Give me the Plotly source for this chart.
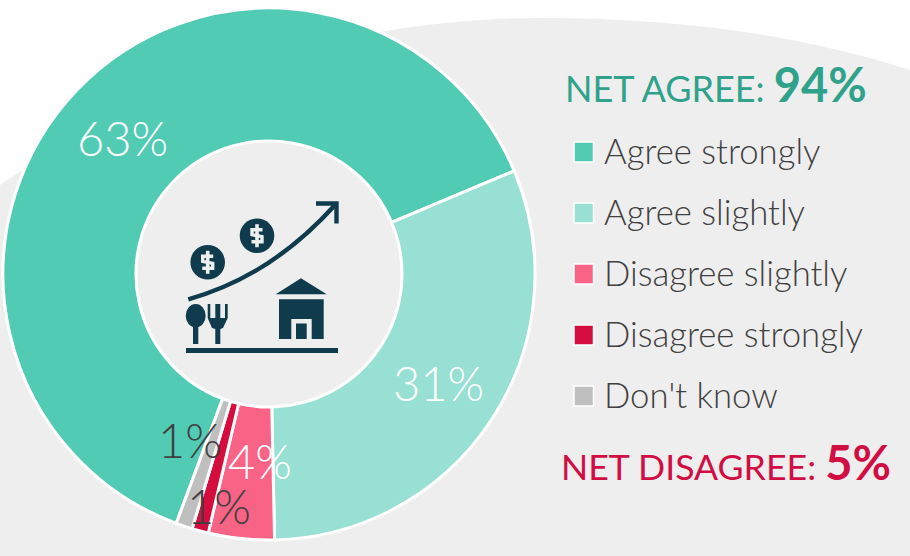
import plotly.graph_objects as go

W, H = 910, 556
categories = ["Agree strongly", "Agree slightly", "Disagree slightly", "Disagree strongly", "Don't know"]
values = [63, 31, 4, 1, 1]
colors = ["#52CBB5", "#97E0D3", "#F96385", "#D40D3E", "#BFBFBF"]
net_agree = values[0] + values[1]
net_disagree = values[2] + values[3]

FONT = "Lato"
TEXT = "#404040"
ICON = "#0F3B4C"
BG = "#EEEEEE"


def X(v):
    return v / W


def Y(v):
    return 1 - v / H


def path(*items):
    out = []
    for it in items:
        if isinstance(it, str):
            out.append(it)
        else:
            out.append(f"{X(it[0]):.5f},{Y(it[1]):.5f}")
    return " ".join(out)


def poly(*pts):
    return "M " + " L ".join(path(p) for p in pts) + " Z"


shapes = []


def add_path(d, fill=None, line=None, lw=0, layer="above", cap=None):
    s = dict(type="path", xref="paper", yref="paper", path=d, layer=layer,
             line=dict(width=lw, color=line or "rgba(0,0,0,0)"),
             fillcolor=fill or "rgba(0,0,0,0)")
    shapes.append(s)


def add_rect(x0, y0, x1, y1, fill, line=None, lw=0, layer="above"):
    shapes.append(dict(type="rect", xref="paper", yref="paper", x0=X(x0), x1=X(x1), y0=Y(y0), y1=Y(y1),
                       fillcolor=fill, layer=layer, line=dict(width=lw, color=line or "rgba(0,0,0,0)")))


def add_oval(cx, cy, rx, ry, fill):
    shapes.append(dict(type="circle", xref="paper", yref="paper", x0=X(cx - rx), x1=X(cx + rx),
                       y0=Y(cy + ry), y1=Y(cy - ry), fillcolor=fill, layer="above", line=dict(width=0)))


# Background blob
add_path(path("M", (0, 185), "C", (150, 80), (350, 18), (540, 18), "C", (680, 18), (800, 35), (910, 70),
              "L", (910, 556), "L", (0, 556), "Z"), fill=BG, layer="below")

# Icon: ground
add_rect(186, 348, 338, 353, ICON)
# spoon
add_oval(195.7, 315.7, 10, 11.7, ICON)
add_rect(193, 320, 198.3, 344, ICON)
# fork
add_path(poly((207.7, 304), (210.3, 304), (210.3, 318), (215.3, 318), (215.3, 304), (220.3, 304), (220.3, 318),
              (225, 318), (225, 304), (227.7, 304), (227.7, 318), (223, 328), (220.3, 329), (220.3, 344),
              (215.3, 344), (215.3, 329), (212, 328), (207.7, 318)), fill=ICON)
# house
add_path(poly((275.7, 294.3), (301, 278.3), (326.7, 294.3)), fill=ICON)
add_rect(279, 299.3, 323.7, 339, ICON)
add_rect(291.3, 319, 311.7, 339, BG)
add_rect(296, 323.5, 306.7, 339, ICON)
# coins
for cx, cy in [(207.7, 262.3), (257, 235.7)]:
    add_oval(cx, cy, 17.3, 17.3, ICON)
    add_path(path("M", (cx + 5.5, cy - 6), "L", (cx - 5, cy - 6), "L", (cx - 5, cy - 1), "L", (cx + 5, cy + 1),
                  "L", (cx + 5, cy + 6), "L", (cx - 5.5, cy + 6)), line=BG, lw=3.4)
    add_rect(cx - 1.8, cy - 11.5, cx + 1.8, cy + 11.5, BG)
# arrow
add_path(path("M", (188.3, 299.3), "C", (240, 285), (290, 255), (335, 205)), line=ICON, lw=4.4)
add_path(path("M", (316, 203.5), "L", (336.5, 203.5), "L", (336.5, 223.5)), line=ICON, lw=4.4)

# Legend swatches
legend_y = [152, 213, 274, 335, 396]
for col, ly in zip(colors, legend_y):
    add_rect(574, ly - 10, 593.5, ly + 10, col, line="white", lw=1.5)

annotations = []


def note(text, x, y, size, color, anchor="center", weight=300):
    annotations.append(dict(text=text, x=X(x), y=Y(y), xref="paper", yref="paper", showarrow=False,
                            xanchor=anchor, yanchor="middle", align="left",
                            font=dict(family=FONT, size=size, color=color, weight=weight)))


for cat, ly in zip(categories, legend_y):
    note(cat, 601.5, ly - 2, 34.7, TEXT, anchor="left")

for v, (lx, ly), col in zip(values, [(123, 138), (438, 383), (260, 461), (219, 506), (190, 440)],
                            ["white", "white", "white", TEXT, TEXT]):
    note(f"{v}%", lx, ly, 47, col)

GREEN = "#30A28B"
CRIMSON = "#D10D43"
note(f"NET AGREE: <b style='font-size:47px'>{net_agree}%</b>", 563, 84, 36, GREEN, anchor="left", weight=400)
note(f"NET DISAGREE: <b style='font-size:47px'>{net_disagree}%</b>", 559, 462, 35.7, CRIMSON, anchor="left", weight=400)

fig = go.Figure(go.Pie(
    labels=categories, values=values, sort=False, direction="clockwise", rotation=200.4,
    hole=0.5, textinfo="none", showlegend=False,
    marker=dict(colors=colors, line=dict(color="white", width=3)),
    domain=dict(x=[X(3), X(535)], y=[Y(540), Y(8)]),
))
fig.update_layout(width=W, height=H, margin=dict(l=0, r=0, t=0, b=0), paper_bgcolor="white",
                  plot_bgcolor="white", shapes=shapes, annotations=annotations, showlegend=False)
fig.write_html("out.html", config=dict(displayModeBar=False),
               post_script="document.body.style.margin='0';document.documentElement.style.overflow='hidden';")
